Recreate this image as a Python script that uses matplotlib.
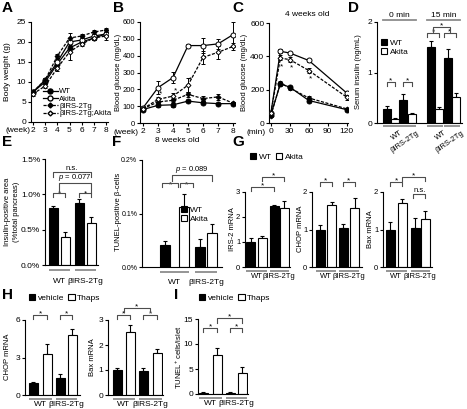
import matplotlib
matplotlib.use('Agg')
import matplotlib.pyplot as plt
import numpy as np
from matplotlib.patches import Patch
from matplotlib.lines import Line2D

plt.rcParams['font.family'] = ['Liberation Sans', 'DejaVu Sans']
plt.rcParams['font.size'] = 6
plt.rcParams['mathtext.fontset'] = 'custom'
plt.rcParams['mathtext.rm'] = 'Liberation Sans'
plt.rcParams['mathtext.it'] = 'Liberation Sans:italic'

FS = 6.0      # general text
TFS = 6.0     # tick labels
SFS = 5.5     # small text

# ---------------- data ----------------
weeks = [2, 3, 4, 5, 6, 7, 8]
series_names = ['WT', 'Akita', 'βIRS-2Tg', 'βIRS-2Tg;Akita']

bw_wt = [7.5, 10.0, 14.5, 18.5, 20.0, 21.0, 22.0]
bw_ak = [7.5, 10.5, 15.0, 20.0, 20.5, 21.5, 22.0]
bw_tg = [7.5, 10.5, 16.5, 21.0, 21.5, 22.5, 23.0]
bw_tgak = [7.0, 9.0, 13.5, 17.5, 19.5, 21.0, 21.5]
bw_wt_err = [0.4, 0.5, 0.7, 0.8, 0.6, 0.5, 0.5]
bw_ak_err = [0.3, 0.5, 0.8, 0.9, 0.7, 0.6, 0.6]
bw_tg_err = [0.3, 0.4, 0.6, 1.2, 0.5, 0.5, 0.4]
bw_tgak_err = [0.4, 0.6, 0.7, 2.0, 0.6, 0.5, 1.0]

bg_wt = [80, 105, 108, 130, 120, 115, 115]
bg_ak = [90, 210, 270, 460, 460, 470, 525]
bg_tg = [85, 125, 135, 170, 145, 155, 118]
bg_tgak = [85, 140, 160, 225, 390, 420, 455]
bg_wt_err = [8, 8, 10, 8, 8, 6, 6]
bg_ak_err = [10, 40, 35, 10, 45, 30, 75]
bg_tg_err = [8, 10, 12, 15, 15, 20, 8]
bg_tgak_err = [10, 15, 20, 40, 40, 40, 20]

minutes = [0, 15, 30, 60, 120]
gtt_wt = [50, 235, 215, 135, 80]
gtt_ak = [60, 430, 420, 375, 180]
gtt_tg = [45, 240, 210, 150, 85]
gtt_tgak = [60, 390, 380, 315, 155]
gtt_wt_err = [5, 12, 10, 10, 8]
gtt_ak_err = [8, 12, 8, 8, 15]
gtt_tg_err = [5, 12, 10, 10, 8]
gtt_tgak_err = [8, 15, 15, 15, 15]

genotypes = ['WT', 'βIRS-2Tg']
ins_0min = [0.28, 0.08, 0.45, 0.17]
ins_0min_err = [0.05, 0.02, 0.12, 0.03]
ins_15min = [1.50, 0.28, 1.28, 0.52]
ins_15min_err = [0.12, 0.03, 0.18, 0.08]

ins_area = [0.80, 0.40, 0.88, 0.60]
ins_area_err = [0.03, 0.06, 0.05, 0.08]

tunel_beta = [0.042, 0.112, 0.037, 0.063]
tunel_beta_err = [0.006, 0.025, 0.016, 0.018]

g_irs2 = [1.0, 1.18, 2.45, 2.37]
g_irs2_err = [0.18, 0.07, 0.03, 0.28]
g_chop = [1.0, 1.65, 1.05, 1.57]
g_chop_err = [0.12, 0.08, 0.10, 0.27]
g_bax = [1.0, 1.72, 1.05, 1.28]
g_bax_err = [0.20, 0.10, 0.25, 0.22]

h_chop = [1.0, 3.3, 1.4, 4.8]
h_chop_err = [0.05, 0.8, 0.3, 0.5]
h_bax = [1.0, 2.52, 0.97, 1.70]
h_bax_err = [0.10, 0.27, 0.10, 0.15]

i_tunel = [0.3, 7.9, 0.3, 4.2]
i_tunel_err = [0.1, 1.4, 0.05, 1.2]

# ---------------- layout helpers ----------------
W, H = 467, 409
fig = plt.figure(figsize=(W / 100, H / 100), dpi=100)


def pax(x0, ytop, x1, ybot, tfs=TFS):
    ax = fig.add_axes([x0 / W, 1 - ybot / H, (x1 - x0) / W, (ybot - ytop) / H])
    ax._hpx = ybot - ytop
    for s in ['top', 'right']:
        ax.spines[s].set_visible(False)
    for s in ['left', 'bottom']:
        ax.spines[s].set_linewidth(0.8)
    ax.tick_params(length=2.2, width=0.8, pad=1.2, labelsize=tfs)
    return ax


def ftext(x, y, s, **kw):
    kw.setdefault('fontsize', FS)
    fig.text(x / W, 1 - y / H, s, **kw)


def panel_label(x, y, s):
    ftext(x, y, s, fontsize=11, fontweight='bold', va='top', ha='left')


def ylab(x, y, s, fs=FS):
    ftext(x, y, s, rotation=90, ha='center', va='center', fontsize=fs)


def line_panel(ax, xs, data, errs):
    styles = [dict(marker='o', mfc='black', ls='-', ms=3.6),
              dict(marker='o', mfc='white', ls='-', ms=3.6),
              dict(marker='D', mfc='black', ls='--', ms=2.5),
              dict(marker='D', mfc='white', ls='--', ms=2.5)]
    for ys, es, st in zip(data, errs, styles):
        ax.errorbar(xs, ys, yerr=es, color='black', mec='black', lw=0.9,
                    elinewidth=0.7, capsize=1.6, capthick=0.7,
                    dashes=(2.5, 1.2) if st['ls'] == '--' else (None, None),
                    marker=st['marker'], mfc=st['mfc'], ms=st['ms'],
                    mew=0.7, zorder=3)


def bar_axes(x0, ytop, x1, ybot, c0, pitch, positions, width_px, ylim, ticks,
             tlabels=None, tfs=TFS):
    ax = pax(x0, ytop, x1, ybot, tfs=tfs)
    pos = np.array(positions, dtype=float)
    ax.set_xlim((x0 - c0) / pitch, (x1 - c0) / pitch)
    ax.set_ylim(*ylim)
    ax.set_yticks(ticks)
    if tlabels is not None:
        ax.set_yticklabels(tlabels)
    ax.set_xticks([])
    ax._pos = pos
    ax._w = width_px / pitch
    return ax


def draw_bars(ax, vals, errs, fills=None):
    pos = ax._pos
    if fills is None:
        fills = [True, False] * (len(vals) // 2)
    for p, v, e, f in zip(pos, vals, errs, fills):
        ax.errorbar(p, v, yerr=[[0], [e]], color='black', elinewidth=0.8,
                    capsize=1.6, capthick=0.8, zorder=1)
        ax.bar(p, v, ax._w, color='black' if f else 'white',
               edgecolor='black', linewidth=0.8, zorder=2)


def bracket(ax, x1, x2, y, text, h=None, fs=FS, dy=0.0):
    if h is None:
        h = 4.0 / ax._hpx * (ax.get_ylim()[1] - ax.get_ylim()[0])
    ax.plot([x1, x1, x2, x2], [y - h, y, y, y - h], color='0.3', lw=0.8,
            clip_on=False, zorder=4)
    ax.text((x1 + x2) / 2, y + dy, text, ha='center', va='bottom',
            fontsize=fs, clip_on=False)


def under(ax, spans, labels, line_off=4, text_off=6, rot=0, fs=FS):
    tr = ax.get_xaxis_transform()
    hp = ax._hpx
    for (a, b), lab in zip(spans, labels):
        ax.plot([a, b], [-line_off / hp] * 2, transform=tr, color='0.55',
                lw=1.3, clip_on=False, solid_capstyle='butt')
        if rot == 0:
            ax.text((a + b) / 2, -text_off / hp, lab, transform=tr,
                    ha='center', va='top', fontsize=fs)
        else:
            ax.text(b + 0.1, -text_off / hp, lab, transform=tr, ha='right',
                    va='top', rotation=rot, rotation_mode='anchor', fontsize=fs)


def spans_of(ax):
    p = ax._pos
    w = ax._w / 2
    return [(p[i] - w, p[i + 1] + w) for i in range(0, len(p), 2)]


def bar_legend(labels, x, y, ncol=1):
    fig.legend([Patch(fc='black', ec='black', lw=0.8), Patch(fc='white', ec='black', lw=0.8)],
               labels, loc='upper left', bbox_to_anchor=(x / W, 1 - y / H), ncol=ncol,
               frameon=False, handlelength=0.75, handleheight=0.75, handletextpad=0.3,
               labelspacing=0.1, columnspacing=0.5, borderpad=0, borderaxespad=0,
               fontsize=FS)

# ---------------- A ----------------
axA = pax(31, 22, 108, 122)
line_panel(axA, weeks, [bw_wt, bw_ak, bw_tg, bw_tgak],
           [bw_wt_err, bw_ak_err, bw_tg_err, bw_tgak_err])
axA.set_xlim(1.84, 8.16)
axA.set_ylim(0, 25)
axA.set_xticks(weeks)
axA.set_yticks([0, 5, 10, 15, 20, 25])
ftext(30, 131, '(week)', va='center', ha='right')
ylab(8, 72, 'Body weight (g)')
panel_label(2, 1, 'A')
handles = [Line2D([], [], color='black', lw=0.9, marker='o', mfc='black', ms=3.6, mec='black'),
           Line2D([], [], color='black', lw=0.9, marker='o', mfc='white', ms=3.6, mec='black'),
           Line2D([], [], color='black', lw=0.9, marker='D', mfc='black', ms=2.5, mec='black', dashes=(2.5, 1.2)),
           Line2D([], [], color='black', lw=0.9, marker='D', mfc='white', ms=2.5, mec='black', dashes=(2.5, 1.2))]
fig.legend(handles, series_names, loc='upper left', bbox_to_anchor=(43 / W, 1 - 88 / H),
           frameon=False, handlelength=1.9, handletextpad=0.2, labelspacing=0.0,
           borderpad=0, borderaxespad=0, fontsize=SFS)

# ---------------- B ----------------
axB = pax(140, 22, 235, 123, tfs=SFS)
line_panel(axB, weeks, [bg_wt, bg_ak, bg_tg, bg_tgak],
           [bg_wt_err, bg_ak_err, bg_tg_err, bg_tgak_err])
axB.set_xlim(1.8, 8.13)
axB.set_ylim(0, 600)
axB.set_xticks(weeks)
axB.set_yticks(range(0, 601, 100))
axB.tick_params(axis='x', labelsize=TFS)
for wk, v in zip(weeks[1:4], bg_tgak[1:4]):
    axB.text(wk + 0.15, v + 12, '*', ha='center', va='bottom', fontsize=FS)
ftext(138, 132, '(week)', va='center', ha='right')
ylab(119, 72, 'Blood glucose (mg/dL)', fs=SFS)
panel_label(113, 1, 'B')

# ---------------- C ----------------
axC = pax(269, 23, 348, 123)
line_panel(axC, minutes, [gtt_wt, gtt_ak, gtt_tg, gtt_tgak],
           [gtt_wt_err, gtt_ak_err, gtt_tg_err, gtt_tgak_err])
axC.set_xlim(-3, 122)
axC.set_ylim(0, 600)
axC.set_xticks([0, 30, 60, 90, 120])
axC.set_yticks([0, 200, 400, 600])
for m, v in zip(minutes[1:4], gtt_tgak[1:4]):
    axC.text(m + 2, v - 30, '*', ha='center', va='top', fontsize=FS)
ftext(307, 14, '4 weeks old', ha='center', va='center')
ftext(266, 132, '(min)', va='center', ha='right')
ylab(245, 72, 'Blood glucose (mg/dL)', fs=SFS)
panel_label(232, 1, 'C')

# ---------------- D ----------------
axD = bar_axes(377, 22, 462, 123, 386.5, 8.4,
               [0, 1, 2, 3, 5.3, 6.3, 7.3, 8.3], 8, (0, 2), [0, 1, 2])
draw_bars(axD, ins_0min + ins_15min, ins_0min_err + ins_15min_err)
sp = spans_of(axD)
under(axD, sp, genotypes * 2, line_off=3, text_off=6, rot=35, fs=SFS)
bracket(axD, 0, 1, 0.81, '*', dy=-0.05)
bracket(axD, 2, 3, 0.81, '*', dy=-0.05)
bracket(axD, 4.8, 6.3, 1.78, '*', dy=-0.05)
bracket(axD, 6.8, 8.3, 1.78, '*', dy=-0.05)
bracket(axD, 5.55, 7.55, 1.90, '*', h=0.1, dy=-0.05)
for (a, b), t in [((sp[0][0], sp[1][1]), '0 min'), ((sp[2][0], sp[3][1]), '15 min')]:
    axD.plot([a, b], [2.04, 2.04], color='0.55', lw=1.3, clip_on=False)
    axD.text((a + b) / 2, 2.06, t, ha='center', va='bottom', fontsize=FS)
bar_legend(['WT', 'Akita'], 381, 39)
ylab(358, 72, 'Serum insulin (ng/mL)', fs=SFS)
panel_label(348, 1, 'D')

# ---------------- E ----------------
axE = bar_axes(45, 159, 98, 265, 53, 12, [0, 1, 2.2, 3.2], 9, (0, 1.5),
               [0, 0.5, 1.0, 1.5], ['0.0%', '0.5%', '1.0%', '1.5%'])
draw_bars(axE, ins_area, ins_area_err)
under(axE, spans_of(axE), genotypes, line_off=5, text_off=13)
bracket(axE, 0, 1, 1.02, '*', dy=-0.07)
bracket(axE, 2.2, 3.2, 1.02, '*', dy=-0.07)
bracket(axE, 0.5, 3.2, 1.16, '$p$ = 0.077', h=0.14, dy=0.0, fs=SFS)
bracket(axE, 0, 3.2, 1.31, 'n.s.', h=0.06, dy=0.0, fs=SFS)
ylab(8, 212, 'Insulin-positive area', fs=SFS)
ylab(16, 212, '(%total pancreas)', fs=SFS)
panel_label(2, 135, 'E')

# ---------------- F ----------------
axF = bar_axes(142, 160, 222, 267, 165, 12, [0, 1.6, 2.9, 3.95], 10, (0, 0.2),
               [0, 0.1, 0.2], ['0.0%', '0.1%', '0.2%'], tfs=5.0)
draw_bars(axF, tunel_beta, tunel_beta_err)
under(axF, spans_of(axF), genotypes, line_off=5, text_off=12)
bracket(axF, -0.25, 1.1, 0.157, '*', dy=-0.01)
bracket(axF, 1.25, 2.35, 0.157, '*', dy=-0.01)
bracket(axF, 0.6, 3.95, 0.172, '$p$ = 0.089', h=0.012, fs=SFS)
bar_legend(['WT', 'Akita'], 181, 206)
ftext(177, 140, '8 weeks old', ha='center', va='center')
ylab(119, 212, 'TUNEL-positive β-cells', fs=SFS)
panel_label(112, 135, 'F')

# ---------------- G ----------------
axG1 = bar_axes(245, 192, 290, 267, 251, 11, [0, 1, 2.1, 3.0], 9, (0, 3), [0, 1, 2, 3], tfs=SFS)
draw_bars(axG1, g_irs2, g_irs2_err)
under(axG1, spans_of(axG1), genotypes, line_off=4, text_off=6, fs=SFS)
bracket(axG1, 0, 2.1, 3.2, '*', dy=-0.1)
bracket(axG1, 1, 3.0, 3.6, '*', dy=-0.1)
ylab(232, 229, 'IRS-2 mRNA', fs=SFS)

axG2 = bar_axes(312, 192, 362, 267, 320, 11.5, [0, 1.04, 2.0, 3.04], 9, (0, 2), [0, 1, 2], tfs=SFS)
draw_bars(axG2, g_chop, g_chop_err)
under(axG2, spans_of(axG2), genotypes, line_off=4, text_off=6, fs=SFS)
bracket(axG2, 0, 1.04, 2.27, '*', dy=-0.07)
bracket(axG2, 2.0, 3.04, 2.27, '*', dy=-0.07)
ylab(301, 229, 'CHOP mRNA', fs=SFS)

axG3 = bar_axes(383, 192, 432, 267, 390, 11.7, [0, 1.03, 2.14, 3.0], 9, (0, 2), [0, 1, 2], tfs=SFS)
draw_bars(axG3, g_bax, g_bax_err)
under(axG3, spans_of(axG3), genotypes, line_off=4, text_off=6, fs=SFS)
bracket(axG3, 0, 1.03, 2.27, '*', dy=-0.07)
bracket(axG3, 1.03, 3.0, 2.41, '*', dy=-0.07)
bracket(axG3, 2.0, 3.0, 1.96, 'n.s.', dy=-0.02, fs=SFS)
ylab(371, 229, 'Bax mRNA', fs=SFS)
bar_legend(['WT', 'Akita'], 250, 153, ncol=2)
panel_label(232, 135, 'G')

# ---------------- H ----------------
axH1 = bar_axes(25, 320, 80, 395, 33, 13, [0, 1.08, 2.08, 3.0], 9, (0, 6), [0, 3, 6])
draw_bars(axH1, h_chop, h_chop_err)
under(axH1, spans_of(axH1), genotypes, line_off=4, text_off=6)
bracket(axH1, 0, 1.08, 6.4, '*', dy=-0.2)
bracket(axH1, 2.08, 3.0, 6.4, '*', dy=-0.2)
ylab(8, 357, 'CHOP mRNA', fs=SFS)

axH2 = bar_axes(108, 320, 163, 395, 117, 13, [0, 1.0, 2.0, 3.08], 9, (0, 3), [0, 1, 2, 3])
draw_bars(axH2, h_bax, h_bax_err)
under(axH2, spans_of(axH2), genotypes, line_off=4, text_off=6)
bracket(axH2, 0, 1.0, 3.2, '*', dy=-0.1)
bracket(axH2, 2.0, 3.08, 3.2, '*', dy=-0.1)
bracket(axH2, 0.5, 2.54, 3.48, '*', dy=-0.1)
ylab(93, 357, 'Bax mRNA', fs=SFS)
bar_legend(['vehicle', 'Thaps'], 29, 294, ncol=2)
panel_label(2, 288, 'H')

# ---------------- I ----------------
axI = bar_axes(198, 319, 248, 394, 203, 13, [0, 1.08, 2.08, 3.0], 9, (0, 15), [0, 5, 10, 15])
draw_bars(axI, i_tunel, i_tunel_err)
under(axI, spans_of(axI), genotypes, line_off=4, text_off=6)
bracket(axI, 0, 1.08, 13.2, '*', dy=-0.5)
bracket(axI, 2.08, 3.0, 13.2, '*', dy=-0.5)
bracket(axI, 1.08, 3.0, 15.2, '*', h=0.9, dy=-0.5)
ylab(179, 357, 'TUNEL$^{+}$ cells/islet', fs=SFS)
bar_legend(['vehicle', 'Thaps'], 199, 294, ncol=2)
panel_label(174, 288, 'I')

fig.savefig('out.png', dpi=100)
